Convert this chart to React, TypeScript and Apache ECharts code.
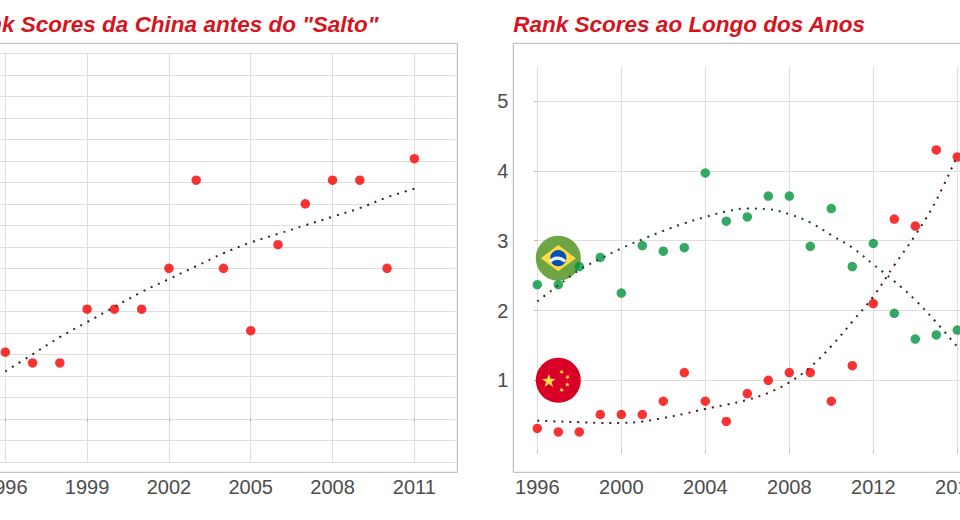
import { useEffect, useRef } from "react";
import * as echarts from "echarts";

// ---------- data ----------
const BASE_YEAR = 1996;
const years = [1996, 1997, 1998, 1999, 2000, 2001, 2002, 2003, 2004, 2005, 2006, 2007, 2008, 2009, 2010, 2011, 2012, 2013, 2014, 2015, 2016];
const chinaScores = [0.31, 0.26, 0.26, 0.51, 0.51, 0.51, 0.7, 1.11, 0.7, 0.41, 0.81, 1.0, 1.11, 1.11, 0.7, 1.21, 2.1, 3.31, 3.21, 4.3, 4.2];
const brazilScores = [2.37, 2.37, 2.63, 2.76, 2.25, 2.93, 2.85, 2.9, 3.97, 3.28, 3.34, 3.64, 3.64, 2.92, 3.46, 2.63, 2.96, 1.96, 1.59, 1.65, 1.72];
// smoothed trend
const chinaTrendBeforeJump = [0.22, 0.3, 0.38, 0.45, 0.52, 0.59, 0.65, 0.71, 0.77, 0.82, 0.86, 0.9, 0.94, 0.98, 1.03, 1.07];
const chinaTrend = [0.42, 0.41, 0.4, 0.39, 0.39, 0.41, 0.46, 0.52, 0.59, 0.65, 0.72, 0.82, 0.97, 1.19, 1.49, 1.84, 2.2, 2.65, 3.08, 3.58, 4.22];
const brazilTrend = [2.13, 2.36, 2.58, 2.74, 2.89, 3.02, 3.14, 3.25, 3.34, 3.42, 3.46, 3.45, 3.38, 3.26, 3.08, 2.9, 2.66, 2.42, 2.15, 1.83, 1.48];
const LAST_YEAR_BEFORE_JUMP = 2011;
const leftYearTicks = [1996, 1999, 2002, 2005, 2008, 2011];
const rightYearTicks = [1996, 2000, 2004, 2008, 2012, 2016];
const rightScoreTicks = [1, 2, 3, 4, 5];
const flagCodes = ["br", "cn"];
const flagYears = [1997, 1997];
const flagScores = [2.75, 1.0];
const leftTitle = 'Rank Scores da China antes do "Salto"';
const rightTitle = "Rank Scores ao Longo dos Anos";

// ---------- style ----------
const RED = "#f50000";
const GREEN = "#00943c";
const TITLE_RED = "#d7141e";
const GRID_LINE = "#dedede";
const BORDER = "#b3b3b3";
const TEXT = "#4d4d4d";
const FONT = '"Liberation Sans", Arial, sans-serif';

function starPoints(cx: number, cy: number, R: number, rot: number) {
  const pts: number[][] = [];
  for (let i = 0; i < 10; i++) {
    const rr = i % 2 === 0 ? R : R * 0.4;
    const a = rot - Math.PI / 2 + (i * Math.PI) / 5;
    pts.push([cx + rr * Math.cos(a), cy + rr * Math.sin(a)]);
  }
  return pts;
}

function flagRender(params: any, api: any) {
  const p = api.coord([api.value(0), api.value(1)]);
  const cx = p[0];
  const cy = p[1];
  const r = 22.5;
  const code = flagCodes[params.dataIndex];
  if (code === "br") {
    const b = r * 0.36;
    return {
      type: "group",
      children: [
        { type: "circle", shape: { cx, cy, r }, style: { fill: "#6DA544" } },
        {
          type: "polygon",
          shape: { points: [[cx - r * 0.78, cy], [cx, cy - r * 0.58], [cx + r * 0.78, cy], [cx, cy + r * 0.58]] },
          style: { fill: "#FFDA44" },
        },
        { type: "circle", shape: { cx, cy, r: b }, style: { fill: "#0052B4" } },
        {
          type: "sector",
          shape: {
            cx: cx - b * 0.1,
            cy: cy + b * 1.25,
            r0: b * 1.05,
            r: b * 1.45,
            startAngle: (-140 * Math.PI) / 180,
            endAngle: (-42 * Math.PI) / 180,
            clockwise: true,
          },
          style: { fill: "#F0F0F0" },
        },
      ],
    };
  }
  const stars = [
    starPoints(cx - r * 0.42, cy + r * 0.04, r * 0.32, 0),
    starPoints(cx + r * 0.15, cy - r * 0.37, r * 0.12, 0.4),
    starPoints(cx + r * 0.41, cy - r * 0.14, r * 0.12, 0.8),
    starPoints(cx + r * 0.4, cy + r * 0.19, r * 0.12, 0),
    starPoints(cx + r * 0.15, cy + r * 0.43, r * 0.12, 0.4),
  ];
  return {
    type: "group",
    children: [
      { type: "circle", shape: { cx, cy, r }, style: { fill: "#D80027" } },
      ...stars.map((pts) => ({ type: "polygon", shape: { points: pts }, style: { fill: "#FFDA44" } })),
    ],
  };
}

// ---------- layout (page pixels) ----------
const SHIFT = 80; // the chart canvas starts 80px left of the page so the cropped panels can extend past it
const CANVAS_W = 1140;

const L_X1996 = 5.3;
const L_PX_YEAR = 27.27;
const L_Y07 = 268.3;
const L_PX_UNIT = 215;
const L_YMIN = -0.2;
const L_YMAX = 1.7;
const L_XMIN = -1.5;
const L_XMAX = 16.5;

const R_X1996 = 537.3;
const R_PX_YEAR = 21;
const R_Y1 = 380.3;
const R_PX_UNIT = 69.8;
const R_YMIN = 0;
const R_YMAX = 5.5;
const R_XMIN = 0;
const R_XMAX = 24;

const PANEL_TOP = 43.3;
const PANEL_BOTTOM = 472.3;
const L_PANEL_RIGHT = 457.3;
const R_PANEL_LEFT = 513.3;

export default function App() {
  const ref = useRef<HTMLDivElement>(null);
  useEffect(() => {
    if (!ref.current) return;
    const chart = echarts.init(ref.current, null, { renderer: "svg" });

    const lGridLeft = L_X1996 + L_XMIN * L_PX_YEAR + SHIFT;
    const lGridWidth = (L_XMAX - L_XMIN) * L_PX_YEAR;
    const lGridTop = L_Y07 - (L_YMAX - 0.7) * L_PX_UNIT;
    const lGridHeight = (L_YMAX - L_YMIN) * L_PX_UNIT;

    const rGridLeft = R_X1996 + R_XMIN * R_PX_YEAR + SHIFT;
    const rGridWidth = (R_XMAX - R_XMIN) * R_PX_YEAR;
    const rGridTop = R_Y1 - (R_YMAX - 1) * R_PX_UNIT;
    const rGridHeight = (R_YMAX - R_YMIN) * R_PX_UNIT;

    const nBefore = years.indexOf(LAST_YEAR_BEFORE_JUMP) + 1;
    const xOf = (y: number) => y - BASE_YEAR;

    const axisLabelStyle = { fontFamily: FONT, fontSize: 20, color: TEXT };
    const splitLine = { show: true, lineStyle: { color: GRID_LINE, width: 1 } };
    const tickStyle = { lineStyle: { color: BORDER, width: 1 } };

    const trendLine = (color: string) => ({
      color,
      width: 2,
      type: [2, 6],
      cap: "butt",
    });

    const titleStyle = {
      fill: TITLE_RED,
      fontSize: 22.5,
      fontWeight: "bold",
      fontStyle: "italic",
      fontFamily: FONT,
      verticalAlign: "middle",
      textVerticalAlign: "middle",
    };

    const option: any = {
      animation: false,
      grid: [
        { left: lGridLeft, top: lGridTop, width: lGridWidth, height: lGridHeight },
        { left: rGridLeft, top: rGridTop, width: rGridWidth, height: rGridHeight },
      ],
      xAxis: [
        {
          type: "value",
          gridIndex: 0,
          min: L_XMIN,
          max: L_XMAX,
          interval: 1.5,
          offset: PANEL_BOTTOM - (lGridTop + lGridHeight),
          axisLine: { show: false },
          axisTick: { show: true, length: 3, customValues: leftYearTicks.map(xOf), ...tickStyle },
          axisLabel: {
            ...axisLabelStyle,
            margin: 5,
            customValues: leftYearTicks.map(xOf),
            formatter: (v: number) => String(Math.round(v + BASE_YEAR)),
          },
          splitLine,
        },
        {
          type: "value",
          gridIndex: 1,
          min: R_XMIN,
          max: R_XMAX,
          interval: 2,
          offset: PANEL_BOTTOM - (rGridTop + rGridHeight),
          axisLine: { show: false },
          axisTick: { show: true, length: 3, customValues: rightYearTicks.map(xOf), ...tickStyle },
          axisLabel: {
            ...axisLabelStyle,
            margin: 5,
            customValues: rightYearTicks.map(xOf),
            formatter: (v: number) => String(Math.round(v + BASE_YEAR)),
          },
          splitLine,
        },
      ],
      yAxis: [
        {
          type: "value",
          gridIndex: 0,
          min: L_YMIN,
          max: L_YMAX,
          interval: 0.1,
          axisLine: { show: false },
          axisTick: { show: false },
          axisLabel: { show: false },
          splitLine,
        },
        {
          type: "value",
          gridIndex: 1,
          min: R_YMIN,
          max: R_YMAX,
          interval: 0.5,
          offset: rGridLeft - (R_PANEL_LEFT + SHIFT),
          axisLine: { show: false },
          axisTick: { show: true, length: 3, customValues: rightScoreTicks, ...tickStyle },
          axisLabel: {
            ...axisLabelStyle,
            margin: 5,
            customValues: rightScoreTicks,
            formatter: (v: number) => String(v),
          },
          splitLine,
        },
      ],
      graphic: [
        {
          type: "rect",
          z: 10,
          silent: true,
          shape: { x: SHIFT - 40, y: PANEL_TOP, width: L_PANEL_RIGHT + 40, height: PANEL_BOTTOM - PANEL_TOP },
          style: { fill: "none", stroke: BORDER, lineWidth: 1 },
        },
        {
          type: "rect",
          z: 10,
          silent: true,
          shape: { x: R_PANEL_LEFT + SHIFT, y: PANEL_TOP, width: 560, height: PANEL_BOTTOM - PANEL_TOP },
          style: { fill: "none", stroke: BORDER, lineWidth: 1 },
        },
        {
          type: "text",
          z: 10,
          x: 378.5 + SHIFT,
          y: 24,
          style: { ...titleStyle, text: leftTitle, align: "right", textAlign: "right" },
        },
        {
          type: "text",
          z: 10,
          x: R_PANEL_LEFT + SHIFT,
          y: 24,
          style: { ...titleStyle, text: rightTitle, align: "left", textAlign: "left" },
        },
      ],
      series: [
        {
          type: "scatter",
          xAxisIndex: 0,
          yAxisIndex: 0,
          symbolSize: 9.5,
          z: 3,
          itemStyle: { color: RED },
          data: years.slice(0, nBefore).map((y, i) => [xOf(y), chinaScores[i]]),
        },
        {
          type: "line",
          xAxisIndex: 0,
          yAxisIndex: 0,
          smooth: 0.4,
          symbol: "none",
          z: 4,
          lineStyle: trendLine("#4a1a1e"),
          data: years.slice(0, nBefore).map((y, i) => [xOf(y), chinaTrendBeforeJump[i]]),
        },
        {
          type: "custom",
          xAxisIndex: 1,
          yAxisIndex: 1,
          z: 2,
          renderItem: flagRender,
          data: flagYears.map((y, i) => [xOf(y), flagScores[i]]),
        },
        {
          type: "scatter",
          xAxisIndex: 1,
          yAxisIndex: 1,
          symbolSize: 9.5,
          z: 3,
          itemStyle: { color: GREEN },
          data: years.map((y, i) => [xOf(y), brazilScores[i]]),
        },
        {
          type: "scatter",
          xAxisIndex: 1,
          yAxisIndex: 1,
          symbolSize: 9.5,
          z: 3,
          itemStyle: { color: RED },
          data: years.map((y, i) => [xOf(y), chinaScores[i]]),
        },
        {
          type: "line",
          xAxisIndex: 1,
          yAxisIndex: 1,
          smooth: 0.4,
          symbol: "none",
          z: 4,
          lineStyle: trendLine("#1c4229"),
          data: years.map((y, i) => [xOf(y), brazilTrend[i]]),
        },
        {
          type: "line",
          xAxisIndex: 1,
          yAxisIndex: 1,
          smooth: 0.4,
          symbol: "none",
          z: 4,
          lineStyle: trendLine("#4a1a1e"),
          data: years.map((y, i) => [xOf(y), chinaTrend[i]]),
        },
      ],
    };
    chart.setOption(option);
    return () => chart.dispose();
  }, []);

  return (
    <div
      ref={ref}
      style={{ position: "fixed", left: -SHIFT, top: 0, width: CANVAS_W, height: 520, background: "#ffffff" }}
    />
  );
}
